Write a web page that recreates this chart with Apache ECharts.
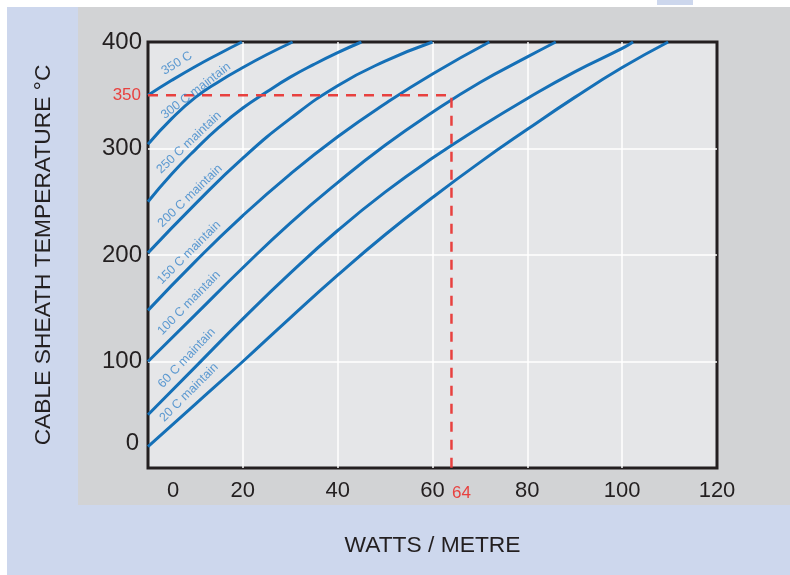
<!DOCTYPE html>
<html>
<head>
<meta charset="utf-8">
<script src="https://cdn.jsdelivr.net/npm/echarts@6/dist/echarts.min.js"></script>
<style>
  html, body { margin: 0; padding: 0; background: #ffffff; }
  .panel { position: absolute; }
  #blue { left: 7px; top: 7px; width: 783px; height: 568px; background: #cdd7ed; }
  #gray { left: 78px; top: 7px; width: 712px; height: 498px; background: #d2d3d5; }
  #tab { left: 657px; top: 0px; width: 36px; height: 5px; background: #cdd7ed; }
  #chart { position: absolute; left: 0; top: 0; width: 790px; height: 575px; }
</style>
</head>
<body>
<div class="panel" id="blue"></div>
<div class="panel" id="gray"></div>
<div class="panel" id="tab"></div>
<div id="chart"></div>
<script>
// ---- data ----
const xLabelValues = [0, 20, 40, 60, 64, 80, 100, 120];
const yLabelValues = [0, 100, 200, 300, 350, 400];
const xTitle = 'WATTS / METRE';
const yTitle = 'CABLE SHEATH TEMPERATURE °C';

const curveNames = ['350 C', '300 C maintain', '250 C maintain', '200 C maintain',
                    '150 C maintain', '100 C maintain', '60 C maintain', '20 C maintain'];

const c350 = [[0,350],[5,364],[10,377],[15,389],[19.8,400]];
const c300 = [[0,304],[5,328],[10,348],[15,363],[20,376],[25,388],[30.5,400]];
const c250 = [[0,250],[5,276],[10,299],[15,320],[20,338],[25,353],[30,367],[35,379],[40,390],[45,400]];
const c200 = [[0,202],[10,248],[20,291],[30,328],[40,359],[50,382],[60,400]];
const c150 = [[0,148],[10,194],[20,237],[30,276],[40,311],[50,342],[60,370],[72,400]];
const c100 = [[0,100],[10,144],[20,188],[30,230],[40,268],[50,303],[60,334],[70,362],[80,386],[86,400]];
const c60  = [[0,50],[10,95],[20,140],[30,183],[40,223],[50,259],[60,291],[70,320],[80,347],[90,372],[100,394],[102.3,400]];
const c20  = [[0,20],[10,60],[20,100],[30,141],[40,181],[50,219],[60,254],[70,287],[80,318],[90,348],[100,376],[109.7,400]];
const curves = [c350, c300, c250, c200, c150, c100, c60, c20];

// curve label anchors (data units) and angles
const labelAnchors = [[6.1,380],[10.1,354],[8.65,305.6],[8.86,255.4],[8.65,202.3],[8.65,155],[8.16,103.3],[8.65,70.9]];
const labelAngles = [32, 37.5, 43.5, 44, 45, 45.8, 46.6, 45];

// design point guide (W/m, °C)
const guideWatts = 64;
const guideTemp = 350;
const guide = [[0, guideTemp], [guideWatts, guideTemp], [guideWatts, 0]];

// ---- chart ----
const FONT = 'Liberation Sans, Arial, sans-serif';
const BLUE = '#1570b7';
const LBLUE = '#3a86cb';
const RED = '#e8413f';
const INK = '#231f20';

const chart = echarts.init(document.getElementById('chart'), null, { renderer: 'canvas' });

const series = curves.map((c, i) => ({
  type: 'line',
  name: curveNames[i],
  data: c,
  smooth: 0.5,
  showSymbol: false,
  symbol: 'none',
  lineStyle: { color: BLUE, width: 3 },
  z: 3
}));

series.push({
  type: 'line',
  name: 'guide',
  data: guide,
  showSymbol: false,
  symbol: 'none',
  lineStyle: { color: RED, width: 2.5, type: [10, 8] },
  z: 5
});

series.push({
  type: 'scatter',
  name: 'labels',
  symbolSize: 0,
  data: labelAnchors.map((p, i) => ({
    name: curveNames[i],
    value: p,
    label: { rotate: labelAngles[i] }
  })),
  label: {
    show: true,
    position: 'inside',
    formatter: '{b}',
    color: LBLUE,
    fontSize: 12.5,
    fontFamily: FONT
  },
  z: 6
});

chart.setOption({
  animation: false,
  grid: {
    left: 148, right: 73, top: 42, bottom: 107,
    show: true,
    backgroundColor: '#e5e6e8',
    borderColor: INK,
    borderWidth: 3,
    z: 0
  },
  xAxis: {
    type: 'value',
    z: 1,
    min: 0, max: 120, interval: 20,
    axisLine: { show: false },
    axisTick: { show: false },
    splitLine: { show: true, showMinLine: false, showMaxLine: false, lineStyle: { color: '#ffffff', width: 1.5 } },
    axisLabel: {
      customValues: xLabelValues,
      margin: 12,
      color: INK,
      fontSize: 22,
      fontFamily: FONT,
      formatter: function (v) {
        if (v === 0) return '{z|0}';
        if (v === guideWatts) return '{r|' + v + '}';
        return String(v);
      },
      rich: {
        z: { fontSize: 22, color: INK, fontFamily: FONT, padding: [0, 0, 0, 50] },
        r: { fontSize: 17, color: RED, fontFamily: FONT, padding: [5, 0, 0, 20] }
      }
    },
    name: xTitle,
    nameLocation: 'middle',
    nameGap: 66,
    nameTextStyle: { color: INK, fontSize: 22.8, fontFamily: FONT }
  },
  yAxis: {
    type: 'value',
    z: 1,
    min: 0, max: 400, interval: 100,
    axisLine: { show: false },
    axisTick: { show: false },
    splitLine: { show: true, showMinLine: false, showMaxLine: false, lineStyle: { color: '#ffffff', width: 1.5 } },
    axisLabel: {
      customValues: yLabelValues,
      margin: 6,
      color: INK,
      fontSize: 24,
      fontFamily: FONT,
      formatter: function (v) {
        if (v === 0) return '{z|0}';
        if (v === guideTemp) return '{r|' + v + '}';
        return String(v);
      },
      rich: {
        z: { fontSize: 24, color: INK, fontFamily: FONT, padding: [0, 3, 50, 0] },
        r: { fontSize: 17, color: RED, fontFamily: FONT, padding: [0, 1, 0, 0] }
      }
    },
    name: yTitle,
    nameLocation: 'middle',
    nameGap: 93,
    nameRotate: 90,
    nameTextStyle: { color: INK, fontSize: 22.8, fontFamily: FONT }
  },
  series: series
});
</script>
</body>
</html>
